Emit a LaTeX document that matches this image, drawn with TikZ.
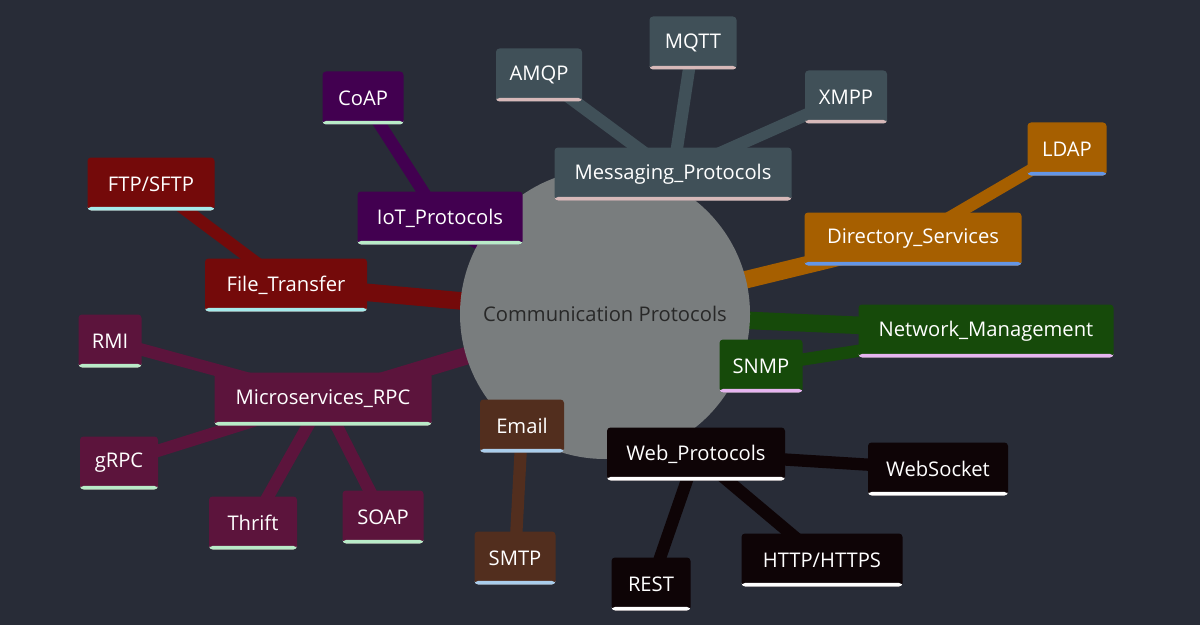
\documentclass[tikz,border=0pt]{standalone}
\usepackage{fontspec}
\setmainfont{Open Sans}
\pgfdeclarelayer{back}
\pgfdeclarelayer{edges}
\pgfsetlayers{back,edges,main}
\definecolor{bg}{RGB}{40,44,55}
\definecolor{hub}{RGB}{121,125,126}
\definecolor{cmsg}{RGB}{64,80,88}
\definecolor{cdir}{RGB}{166,95,0}
\definecolor{cnet}{RGB}{22,74,10}
\definecolor{cweb}{RGB}{14,4,6}
\definecolor{cmail}{RGB}{82,46,30}
\definecolor{crpc}{RGB}{92,20,60}
\definecolor{cfile}{RGB}{116,10,10}
\definecolor{ciot}{RGB}{66,0,80}
\definecolor{umsg}{RGB}{215,185,185}
\definecolor{udir}{RGB}{100,150,230}
\definecolor{unet}{RGB}{230,180,240}
\definecolor{umail}{RGB}{170,205,235}
\definecolor{ugrn}{RGB}{185,235,200}
\definecolor{ucyan}{RGB}{165,235,235}
\tikzset{
  mm/.style 2 args={rectangle, rounded corners=2pt, fill=#1, text=white,
    minimum height=53*0.02cm, inner sep=0pt,
    font=\fontsize{11.5}{13}\selectfont,
    path picture={\fill[#2] (path picture bounding box.south west) rectangle ([yshift=2pt]path picture bounding box.south east);}},
  e1/.style={draw=#1, line width=10pt},
  e2/.style={draw=#1, line width=7pt},
}
\begin{document}
\begin{tikzpicture}[x=0.02cm,y=-0.02cm]
\begin{pgfonlayer}{back}
\fill[bg] (0,0) rectangle (1200,625);
\end{pgfonlayer}
\useasboundingbox (0,0) rectangle (1200,625);
% hub
\node[circle, fill=hub, minimum size=290*0.02cm, inner sep=0pt, text={rgb,255:red,40;green,40;blue,40},
  font=\fontsize{11.5}{13}\selectfont] (root) at (605,314) {Communication Protocols};
% nodes
\node[mm={cmsg}{umsg}, minimum width=237*0.02cm] (msg) at (673,174) {Messaging\_Protocols};
\node[mm={cmsg}{umsg}, minimum width=86*0.02cm] (amqp) at (539,75) {AMQP};
\node[mm={cmsg}{umsg}, minimum width=87*0.02cm] (mqtt) at (693,43) {MQTT};
\node[mm={cmsg}{umsg}, minimum width=82*0.02cm] (xmpp) at (846,97) {XMPP};
\node[mm={cdir}{udir}, minimum width=217*0.02cm] (dir) at (913,239) {Directory\_Services};
\node[mm={cdir}{udir}, minimum width=79*0.02cm] (ldap) at (1067,149) {LDAP};
\node[mm={cnet}{unet}, minimum width=255*0.02cm] (net) at (986,331) {Network\_Management};
\node[mm={cnet}{unet}, minimum width=83*0.02cm] (snmp) at (761,366) {SNMP};
\node[mm={cweb}{white}, minimum width=178*0.02cm] (web) at (696,454) {Web\_Protocols};
\node[mm={cweb}{white}, minimum width=140*0.02cm] (ws) at (938,469) {WebSocket};
\node[mm={cweb}{white}, minimum width=161*0.02cm] (http) at (822,560) {HTTP/HTTPS};
\node[mm={cweb}{white}, minimum width=79*0.02cm] (rest) at (651,584) {REST};
\node[mm={cmail}{umail}, minimum width=84*0.02cm] (mail) at (522,426) {Email};
\node[mm={cmail}{umail}, minimum width=81*0.02cm] (smtp) at (515,558) {SMTP};
\node[mm={crpc}{ugrn}, minimum width=217*0.02cm] (rpc) at (323,399) {Microservices\_RPC};
\node[mm={crpc}{ugrn}, minimum width=63*0.02cm] (rmi) at (110,341) {RMI};
\node[mm={crpc}{ugrn}, minimum width=78*0.02cm] (grpc) at (119,463) {gRPC};
\node[mm={crpc}{ugrn}, minimum width=88*0.02cm] (thrift) at (253,523) {Thrift};
\node[mm={crpc}{ugrn}, minimum width=81*0.02cm] (soap) at (383,517) {SOAP};
\node[mm={cfile}{ucyan}, minimum width=162*0.02cm] (file) at (286,285) {File\_Transfer};
\node[mm={cfile}{ucyan}, minimum width=127*0.02cm] (ftp) at (151,184) {FTP/SFTP};
\node[mm={ciot}{ugrn}, minimum width=165*0.02cm] (iot) at (440,218) {IoT\_Protocols};
\node[mm={ciot}{ugrn}, minimum width=81*0.02cm] (coap) at (363,98) {CoAP};
% connectors
\begin{pgfonlayer}{edges}
\path[e1=cmsg] (root.center) -- (msg.center);
\path[e2=cmsg] (msg.center) -- (amqp.center);
\path[e2=cmsg] (msg.center) -- (mqtt.center);
\path[e2=cmsg] (msg.center) -- (xmpp.center);
\path[e1=cdir] (root.center) -- (dir.center);
\path[e2=cdir] (dir.center) -- (ldap.center);
\path[e1=cnet] (root.center) -- (net.center);
\path[e2=cnet] (net.center) -- (snmp.center);
\path[e1=cweb] (root.center) -- (web.center);
\path[e2=cweb] (web.center) -- (ws.center);
\path[e2=cweb] (web.center) -- (http.center);
\path[e2=cweb] (web.center) -- (rest.center);
\path[e1=cmail] (root.center) -- (mail.center);
\path[e2=cmail] (mail.center) -- (smtp.center);
\path[e1=crpc] (root.center) -- (rpc.center);
\path[e2=crpc] (rpc.center) -- (rmi.center);
\path[e2=crpc] (rpc.center) -- (grpc.center);
\path[e2=crpc] (rpc.center) -- (thrift.center);
\path[e2=crpc] (rpc.center) -- (soap.center);
\path[e1=cfile] (root.center) -- (file.center);
\path[e2=cfile] (file.center) -- (ftp.center);
\path[e1=ciot] (root.center) -- (iot.center);
\path[e2=ciot] (iot.center) -- (coap.center);
\end{pgfonlayer}
\end{tikzpicture}
\end{document}
